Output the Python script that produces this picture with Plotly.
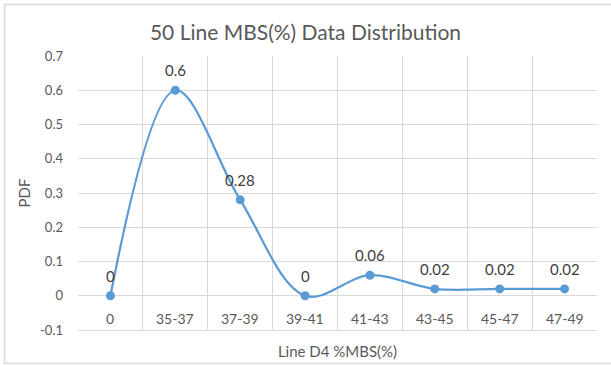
import plotly.graph_objects as go

categories = ["0", "35-37", "37-39", "39-41", "41-43", "43-45", "45-47", "47-49"]
pdf_values = [0, 0.6, 0.28, 0, 0.06, 0.02, 0.02, 0.02]
value_labels = ["0", "0.6", "0.28", "0", "0.06", "0.02", "0.02", "0.02"]
y_ticks = [-0.1, 0, 0.1, 0.2, 0.3, 0.4, 0.5, 0.6, 0.7]
y_tick_labels = ["-0.1", "0", "0.1", "0.2", "0.3", "0.4", "0.5", "0.6", "0.7"]

FONT = "Lato"
GREY = "#595959"
GRID = "#D9D9D9"
BLUE = "#5B9BD5"

W, H = 611, 365
L, R, T, B = 78, 14, 56, 35
PW, PH = W - L - R, H - T - B

xs = list(range(len(categories)))

fig = go.Figure()
fig.add_trace(go.Scatter(
    x=xs, y=pdf_values, mode="lines+markers",
    line=dict(color=BLUE, width=2.25, shape="spline", smoothing=1.0),
    marker=dict(color=BLUE, size=9),
    cliponaxis=False, showlegend=False, hoverinfo="skip",
))

# data labels
for i, (v, t) in enumerate(zip(pdf_values, value_labels)):
    fig.add_annotation(x=i, y=v, xref="x", yref="y", text=t, showarrow=False,
                       yanchor="bottom", yshift=9,
                       font=dict(family=FONT, size=15, color="#404040"))

# zero line (category axis crossing)
fig.add_shape(type="line", xref="x", yref="y", x0=-0.5, x1=len(categories) - 0.5,
              y0=0, y1=0, line=dict(color=GRID, width=1), layer="below")

for i, c in enumerate(categories):
    fig.add_annotation(x=i, y=-0.066, xref="x", yref="y", text=c, showarrow=False,
                       font=dict(family=FONT, size=14, color=GREY))

fig.update_layout(
    width=W, height=H,
    margin=dict(l=L, r=R, t=T, b=B),
    paper_bgcolor="white", plot_bgcolor="white",
    title=dict(text="50 Line MBS(%) Data Distribution", x=0.5, xanchor="center",
               y=1 - 33 / H, yanchor="middle",
               font=dict(family=FONT, size=21, color=GREY)),
    xaxis=dict(range=[-0.5, len(categories) - 0.5],
               tickvals=[i - 0.5 for i in range(len(categories) + 1)],
               showticklabels=False, showgrid=True, gridcolor=GRID, gridwidth=1,
               zeroline=False, showline=True, linecolor=GRID, linewidth=1,
               mirror=False, ticks="", automargin=False,
               title=dict(text="Line D4 %MBS(%)", standoff=16,
                          font=dict(family=FONT, size=15, color=GREY))),
    yaxis=dict(range=[-0.1, 0.7], tickvals=y_ticks, ticktext=y_tick_labels,
               showgrid=True, gridcolor=GRID, gridwidth=1, zeroline=False,
               showline=False, ticks="", ticklabelstandoff=14, automargin=False,
               tickfont=dict(family=FONT, size=13, color=GREY),
               title=dict(text="PDF", standoff=5,
                          font=dict(family=FONT, size=15, color=GREY))),
    shapes=[dict(type="rect", xref="paper", yref="paper",
                 x0=(4.5 - L) / PW, x1=(W + 2 - L) / PW,
                 y0=-(363.5 - (H - B)) / PH, y1=1 + (T - 4.5) / PH,
                 line=dict(color=GRID, width=1.5), fillcolor="rgba(0,0,0,0)", layer="below")],
)

fig.write_html("out.html", config={"displayModeBar": False},
               post_script="document.body.style.margin='0';")
